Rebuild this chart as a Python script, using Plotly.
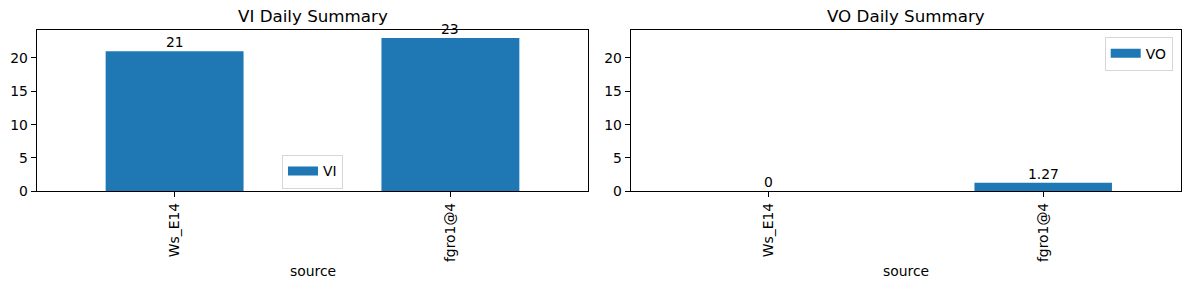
import plotly.graph_objects as go

categories = ["Ws_E14", "fgro1@4"]
vi_values = [21, 23]
vo_values = [0, 1.27]
vi_labels = ["21", "23"]
vo_labels = ["0", "1.27"]
y_ticks = [0, 5, 10, 15, 20]

W, H = 1189, 290
BLUE = "#1f77b4"
FONT = "DejaVu Sans"
TICK_PX = 13.9
TITLE_PX = 16.7

def px_x(p):
    return p / W

def px_y(p):
    return 1 - p / H

dom1 = [px_x(36.7), px_x(588.3)]
dom2 = [px_x(630.7), px_x(1180.7)]
ydom = [px_y(191.3), px_y(30.3)]

fig = go.Figure()
fig.add_trace(go.Bar(x=categories, y=vi_values, name="VI", marker_color=BLUE,
                     marker_line_width=0, width=0.5, xaxis="x", yaxis="y",
                     showlegend=False))
fig.add_trace(go.Bar(x=categories, y=vo_values, name="VO", marker_color=BLUE,
                     marker_line_width=0, width=0.5, xaxis="x2", yaxis="y2",
                     showlegend=False))
# legend handles (wide rectangles like matplotlib patches)
fig.add_trace(go.Scatter(x=[None], y=[None], mode="lines", name="VI",
                         line=dict(color=BLUE, width=9), xaxis="x", yaxis="y",
                         legend="legend", showlegend=True))
fig.add_trace(go.Scatter(x=[None], y=[None], mode="lines", name="VO",
                         line=dict(color=BLUE, width=9), xaxis="x2", yaxis="y2",
                         legend="legend2", showlegend=True))

axis_common = dict(showline=True, linecolor="black", linewidth=1, mirror=True,
                   ticks="outside", ticklen=5, tickcolor="black", tickwidth=1,
                   showgrid=False, zeroline=False, automargin=False,
                   tickfont=dict(family=FONT, size=TICK_PX, color="black"))

legend_common = dict(bordercolor="#d6d6d6", borderwidth=1, bgcolor="rgba(255,255,255,0.8)",
                     font=dict(family=FONT, size=TICK_PX, color="black"),
                     itemwidth=30)

fig.update_layout(
    template="none",
    width=W, height=H, autosize=False,
    margin=dict(l=0, r=0, t=0, b=0, autoexpand=False),
    paper_bgcolor="white", plot_bgcolor="white",
    font=dict(family=FONT, size=TICK_PX, color="black"),
    xaxis=dict(domain=dom1, anchor="y", type="category", range=[-0.5, 1.5],
               tickangle=-90, **axis_common),
    yaxis=dict(domain=ydom, anchor="x", range=[0, 24.15], tickvals=y_ticks, **axis_common),
    xaxis2=dict(domain=dom2, anchor="y2", type="category", range=[-0.5, 1.5],
                tickangle=-90, **axis_common),
    yaxis2=dict(domain=ydom, anchor="x2", range=[0, 24.15], tickvals=y_ticks, **axis_common),
    legend=dict(x=px_x(312.5), y=px_y(171.5), xanchor="center", yanchor="middle",
                **legend_common),
    legend2=dict(x=px_x(1172.7), y=px_y(36.7), xanchor="right", yanchor="top",
                 **legend_common),
    showlegend=True,
)

annotations = []
for c, v, t in zip(categories, vi_values, vi_labels):
    annotations.append(dict(x=c, y=v, xref="x", yref="y", text=t, showarrow=False,
                            yanchor="bottom", yshift=-1,
                            font=dict(family=FONT, size=TICK_PX, color="black")))
for c, v, t in zip(categories, vo_values, vo_labels):
    annotations.append(dict(x=c, y=v, xref="x2", yref="y2", text=t, showarrow=False,
                            yanchor="bottom", yshift=-1,
                            font=dict(family=FONT, size=TICK_PX, color="black")))
for dom, title in [(dom1, "VI Daily Summary"), (dom2, "VO Daily Summary")]:
    annotations.append(dict(x=(dom[0] + dom[1]) / 2, y=px_y(16), xref="paper", yref="paper",
                            text=title, showarrow=False, xanchor="center", yanchor="middle",
                            font=dict(family=FONT, size=TITLE_PX, color="black")))
    annotations.append(dict(x=(dom[0] + dom[1]) / 2, y=px_y(271), xref="paper", yref="paper",
                            text="source", showarrow=False, xanchor="center", yanchor="middle",
                            font=dict(family=FONT, size=TICK_PX, color="black")))
fig.update_layout(annotations=annotations)

fig.write_html("out.html")
